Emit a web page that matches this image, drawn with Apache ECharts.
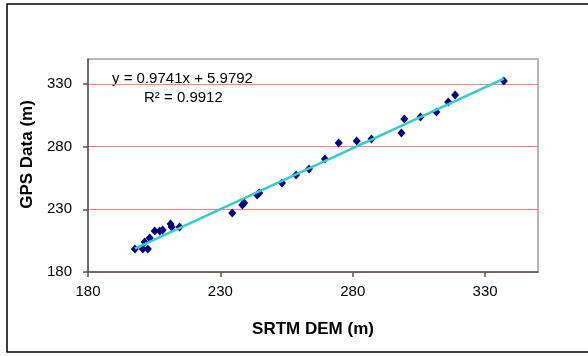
<!DOCTYPE html>
<html>
<head>
<meta charset="utf-8">
<script src="https://cdn.jsdelivr.net/npm/echarts@6/dist/echarts.min.js"></script>
<style>
  html, body { margin: 0; padding: 0; background: #fff; }
  #chart { width: 588px; height: 356px; }
</style>
</head>
<body>
<div id="chart"></div>
<script>
// values
var srtmDem = [197.7, 200.7, 202.6, 201.4, 203.3, 205.2, 207.1, 208.2, 211.2, 211.6, 214.6,
               234.5, 238.3, 239.0, 243.9, 244.7, 253.3, 258.6, 263.5, 269.5, 274.7, 281.5,
               287.1, 298.4, 299.5, 305.6, 311.6, 316.1, 318.7, 337.1];
var gpsData = [198.4, 198.4, 198.4, 203.9, 207.1, 212.7, 212.7, 213.5, 218.3, 215.9, 215.9,
               227.1, 233.5, 235.1, 241.4, 243.0, 251.0, 257.4, 262.2, 270.2, 282.9, 284.5,
               286.1, 290.9, 302.1, 303.7, 307.7, 315.6, 321.2, 332.4];
var trendX = [197.7, 337.1];
var trendY = [198.6, 334.4];
var tickValues = [180, 230, 280, 330];

var font = '"Liberation Sans", Arial, sans-serif';

var points = srtmDem.map(function (x, i) { return [x, gpsData[i]]; });
var trend = trendX.map(function (x, i) { return [x, trendY[i]]; });

function axis(name, extra) {
  var a = {
    type: 'value',
    min: 180,
    max: 350,
    name: name,
    nameLocation: 'middle',
    nameTextStyle: { fontFamily: font, fontSize: 17, fontWeight: 'bold', color: '#000' },
    axisLine: { show: true, onZero: false, lineStyle: { color: '#555', width: 1.5 } },
    axisTick: { show: true, length: 5, customValues: tickValues, lineStyle: { color: '#555', width: 1.5 } },
    axisLabel: { customValues: tickValues, fontFamily: font, fontSize: 15, color: '#000' },
    splitLine: { show: false }
  };
  for (var k in extra) a[k] = extra[k];
  return a;
}

var xAx = axis('SRTM DEM (m)', { nameGap: 49 });
xAx.axisLabel.margin = 12;

var yAx = axis('GPS Data (m)', {
  nameGap: 51,
  splitLine: { show: true, lineStyle: { color: '#ff8080', width: 1 } }
});
yAx.axisLabel.margin = 16;
yAx.nameTextStyle.padding = [0, 0, 0, 22];

var option = {
  animation: false,
  grid: {
    left: 88, top: 59, right: 50, bottom: 84,
    show: true, borderColor: '#a0a0a0', borderWidth: 1.5, backgroundColor: '#fff'
  },
  xAxis: xAx,
  yAxis: yAx,
  graphic: [
    {
      type: 'rect', silent: true, z: -1,
      shape: { x: 7, y: 4, width: 620, height: 348 },
      style: { fill: null, stroke: '#000', lineWidth: 1.5 }
    },
    {
      type: 'text', left: 112, top: 71,
      style: { text: 'y = 0.9741x + 5.9792', font: '15px ' + font, fill: '#000' }
    },
    {
      type: 'text', left: 144, top: 90,
      style: { text: 'R\u00b2 = 0.9912', font: '15px ' + font, fill: '#000' }
    }
  ],
  series: [
    {
      type: 'scatter',
      data: points,
      symbol: 'diamond',
      symbolSize: [8, 9],
      itemStyle: { color: '#000080', opacity: 1 },
      z: 2
    },
    {
      type: 'line',
      data: trend,
      symbol: 'none',
      lineStyle: { color: '#33cccc', width: 2.5 },
      z: 3
    }
  ]
};

var chart = echarts.init(document.getElementById('chart'));
chart.setOption(option);
</script>
</body>
</html>
